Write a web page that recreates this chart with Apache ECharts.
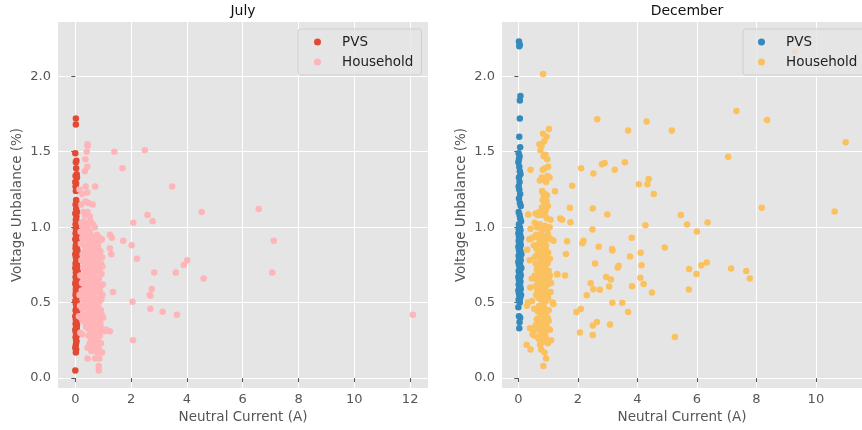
<!DOCTYPE html>
<html>
<head>
<meta charset="utf-8">
<script src="https://cdn.jsdelivr.net/npm/echarts@6/dist/echarts.min.js"></script>
<style>html,body{margin:0;padding:0;background:#fff}#c{width:862px;height:430px}</style>
</head>
<body>
<div id="c"></div>
<script>
var panelTitles = ['July', 'December'];
var seriesNames = ['PVS', 'Household'];
var xLabel = 'Neutral Current (A)';
var yLabel = 'Voltage Unbalance (%)';
var yTicks = [0, 0.5, 1.0, 1.5, 2.0];
var julyXTicks = [0, 2, 4, 6, 8, 10, 12];
var decXTicks = [0, 2, 4, 6, 8, 10];

var julyPVS = [
[0.02,1.72],[0.02,1.68],[0.0,1.49],[0.04,1.44],[0.02,1.43],[0.03,1.39],[0.05,1.35],[0.01,1.34],[0.06,1.33],[0.0,1.30],
[0.03,1.29],[0.01,1.27],[0.05,1.25],[0.02,1.24],[0.03,1.18],[0.05,1.16],[0.01,1.15],[0.03,1.12],[0.06,1.10],[0.0,1.09],
[0.04,1.07],[0.02,1.05],[0.05,1.04],[0.01,1.02],[0.03,1.01],
[0.02,0.99],[0.07,0.98],[0.01,0.96],[0.05,0.95],[0.09,0.94],[0.03,0.93],[0.0,0.92],[0.06,0.91],[0.04,0.90],[0.08,0.89],
[0.02,0.88],[0.05,0.87],[0.01,0.86],[0.07,0.85],[0.03,0.84],[0.09,0.83],[0.0,0.82],[0.05,0.81],[0.02,0.80],[0.06,0.79],
[0.04,0.78],[0.08,0.77],[0.01,0.76],[0.03,0.75],[0.07,0.74],[0.0,0.73],[0.05,0.72],[0.09,0.71],[0.02,0.70],[0.06,0.69],
[0.04,0.68],[0.01,0.67],[0.08,0.66],[0.03,0.65],[0.06,0.64],[0.0,0.63],[0.10,0.62],[0.05,0.61],[0.13,0.60],[0.02,0.59],
[0.12,0.59],[0.07,0.58],[0.04,0.57],[0.09,0.56],[0.01,0.55],[0.06,0.54],[0.03,0.53],[0.08,0.52],[0.0,0.51],[0.05,0.50],
[0.02,0.49],[0.07,0.48],[0.04,0.47],[0.09,0.46],[0.01,0.45],[0.06,0.44],[0.03,0.43],[0.08,0.42],[0.0,0.41],[0.05,0.40],
[0.02,0.39],[0.07,0.38],[0.04,0.37],[0.01,0.36],[0.06,0.35],[0.03,0.34],[0.05,0.33],[0.0,0.32],[0.04,0.31],[0.02,0.30],
[0.05,0.28],[0.01,0.27],[0.03,0.25],[0.04,0.24],[0.02,0.22],[0.0,0.20],[0.03,0.19],[0.02,0.17],[0.0,0.05],
[0.04,0.97],[0.03,0.77],[0.06,0.67],[0.02,0.57],[0.07,0.45],[0.01,0.62],[0.05,0.85]
];

var julyHousehold = [
[0.44,1.54],[0.44,1.55],[0.41,1.50],[0.36,1.45],[0.43,1.40],[0.34,1.37],[0.71,1.27],[0.37,1.27],[0.15,1.25],[0.24,1.22],
[0.43,1.23],[0.22,1.15],[0.37,1.17],[0.47,1.16],[0.62,1.15],[0.29,1.10],[0.44,1.10],[0.35,1.08],[0.52,1.07],
[0.22,1.03],[0.31,1.04],[0.47,1.03],[0.55,1.04],[0.38,1.01],[0.63,1.02],[0.70,1.00],[0.28,1.00],[0.44,0.99],
[0.19,0.97],[0.33,0.96],[0.41,0.95],[0.52,0.97],[0.60,0.94],[0.78,0.95],[0.86,0.93],[0.95,0.92],[0.25,0.93],[0.36,0.92],
[0.48,0.91],[0.57,0.90],[0.67,0.92],[0.74,0.90],[0.30,0.94],[0.45,0.96],[0.88,0.91],
[0.20,0.89],[0.29,0.88],[0.39,0.87],[0.50,0.89],[0.58,0.86],[0.66,0.88],[0.73,0.85],[0.82,0.87],[0.34,0.84],[0.43,0.83],
[0.55,0.82],[0.62,0.84],[0.70,0.81],[0.80,0.82],[0.90,0.84],[0.26,0.82],[0.47,0.86],[0.76,0.88],[0.96,0.80],[0.37,0.80],
[0.22,0.78],[0.31,0.77],[0.40,0.79],[0.49,0.76],[0.57,0.78],[0.64,0.75],[0.72,0.77],[0.84,0.79],[0.92,0.76],[0.28,0.73],
[0.36,0.72],[0.45,0.74],[0.53,0.71],[0.61,0.73],[0.69,0.70],[0.78,0.72],[0.87,0.71],[0.97,0.74],[0.42,0.70],[0.59,0.79],[0.81,0.75],
[0.18,0.68],[0.27,0.67],[0.35,0.69],[0.44,0.66],[0.52,0.68],[0.60,0.65],[0.68,0.67],[0.76,0.64],[0.85,0.66],[0.94,0.69],
[0.24,0.63],[0.32,0.62],[0.41,0.61],[0.49,0.63],[0.57,0.60],[0.65,0.62],[0.73,0.61],[0.82,0.63],[0.91,0.61],[0.99,0.62],
[0.38,0.65],[0.62,0.69],[0.88,0.60],
[0.15,0.55],[0.23,0.58],[0.30,0.56],[0.39,0.59],[0.47,0.57],[0.55,0.55],[0.63,0.58],[0.71,0.56],[0.80,0.59],[0.89,0.57],
[0.97,0.55],[0.26,0.52],[0.35,0.51],[0.43,0.53],[0.51,0.50],[0.59,0.52],[0.67,0.51],[0.75,0.53],[0.84,0.50],[0.93,0.52],
[0.45,0.55],[0.70,0.54],
[0.17,0.48],[0.25,0.46],[0.33,0.49],[0.41,0.47],[0.50,0.45],[0.58,0.48],[0.66,0.46],[0.74,0.49],[0.83,0.47],[0.92,0.45],
[1.00,0.40],[0.29,0.42],[0.37,0.41],[0.46,0.43],[0.54,0.40],[0.62,0.42],[0.70,0.41],[0.79,0.43],[0.87,0.41],[0.95,0.42],
[0.13,0.41],[0.21,0.40],[0.86,0.38],
[0.26,0.38],[0.34,0.37],[0.42,0.39],[0.50,0.36],[0.58,0.38],[0.66,0.35],[0.74,0.37],[0.82,0.34],[0.90,0.36],[0.45,0.33],
[0.53,0.31],[0.61,0.33],[0.69,0.30],[0.77,0.32],[0.85,0.31],[0.93,0.33],[0.38,0.34],[0.18,0.30],[0.25,0.29],[1.10,0.32],[0.57,0.35],
[0.48,0.28],[0.56,0.26],[0.64,0.29],[0.72,0.27],[0.80,0.25],[0.88,0.28],[0.52,0.23],[0.60,0.21],[0.68,0.24],[0.76,0.22],
[0.84,0.20],[0.92,0.23],[0.44,0.20],[0.63,0.19],[0.79,0.29],[0.70,0.20],
[0.96,0.17],[0.44,0.13],[0.71,0.13],[0.86,0.13],[0.84,0.08],[0.84,0.05],[0.58,0.18],[0.79,0.17],
[1.40,1.50],[2.49,1.51],[1.69,1.39],[3.47,1.27],[2.59,1.08],[4.53,1.10],[6.57,1.12],
[2.08,1.03],[2.77,1.04],[7.11,0.91],[1.24,0.95],[1.31,0.93],[1.72,0.91],[2.02,0.88],[1.24,0.86],[1.29,0.82],
[2.21,0.79],[4.01,0.78],[3.89,0.75],[3.60,0.70],[2.83,0.70],[7.06,0.70],[4.60,0.66],[2.74,0.59],[2.67,0.55],[2.69,0.545],
[1.35,0.57],[2.05,0.505],[2.69,0.46],[3.13,0.44],[3.64,0.42],[12.1,0.42],[2.07,0.25],[1.06,0.31],[1.24,0.31]
];

var decPVS = [
[0.02,2.23],[0.05,2.21],[0.03,2.20],[0.07,1.87],[0.05,1.84],[0.05,1.72],[0.03,1.60],[0.06,1.53],[0.01,1.49],[0.04,1.47],
[0.02,1.45],[0.0,1.43],[0.03,1.40],[0.05,1.37],[0.07,1.35],[0.02,1.33],[0.04,1.30],[0.01,1.27],[0.03,1.25],[0.06,1.22],
[0.02,1.19],[0.05,1.16],[0.08,1.14],[0.01,1.10],[0.04,1.08],[0.06,1.06],[0.09,1.04],[0.02,1.02],
[0.05,1.00],[0.01,0.99],[0.07,0.98],[0.03,0.97],[0.0,0.96],[0.06,0.95],[0.02,0.94],[0.09,0.93],[0.04,0.92],[0.01,0.91],
[0.06,0.90],[0.03,0.89],[0.08,0.88],[0.0,0.87],[0.05,0.86],[0.02,0.85],[0.07,0.84],[0.04,0.83],[0.10,0.82],[0.01,0.81],
[0.06,0.80],[0.03,0.79],[0.08,0.78],[0.0,0.77],[0.05,0.76],[0.02,0.75],[0.07,0.74],[0.10,0.73],[0.04,0.72],[0.01,0.71],
[0.06,0.70],[0.03,0.69],[0.08,0.68],[0.0,0.67],[0.05,0.66],[0.02,0.65],[0.07,0.64],[0.04,0.63],[0.01,0.62],[0.06,0.61],
[0.03,0.60],[0.08,0.59],[0.0,0.58],[0.05,0.57],[0.02,0.56],[0.09,0.55],[0.04,0.54],[0.06,0.53],[0.01,0.52],[0.03,0.51],
[0.05,0.50],[0.0,0.47],[0.02,0.41],[0.06,0.40],[0.04,0.37],[0.03,0.33],[0.07,0.92],[0.04,0.86],[0.02,0.78],[0.06,0.73],[0.03,0.64]
];

var decHousehold = [
[0.83,2.015],[9.3,2.165],[2.65,1.715],[3.69,1.64],[4.31,1.70],[5.16,1.64],[7.33,1.77],[8.36,1.71],[11.0,1.563],[7.05,1.466],
[0.41,1.38],[2.11,1.39],[2.52,1.355],[2.81,1.417],[2.90,1.425],[3.24,1.38],[3.58,1.43],[4.05,1.285],[4.34,1.285],[4.38,1.32],
[4.55,1.22],[1.81,1.274],[1.23,1.238],[1.73,1.128],[2.50,1.124],[2.99,1.084],[5.46,1.08],[8.18,1.128],[10.63,1.104],[0.33,1.084],
[1.41,1.057],[1.47,1.05],[1.75,1.033],[2.49,0.985],[4.27,1.013],[5.67,1.018],[6.36,1.031],[6.0,0.971],[0.41,0.99],[1.64,0.907],
[2.15,0.894],[2.19,0.91],[3.81,0.93],[2.70,0.87],[3.15,0.856],[3.16,0.845],[4.92,0.865],[4.11,0.83],[1.60,0.823],[3.75,0.806],
[4.14,0.748],[2.58,0.76],[3.34,0.733],[3.37,0.745],[6.15,0.748],[6.33,0.766],[5.74,0.722],[7.15,0.726],[7.66,0.709],[7.78,0.66],
[5.99,0.689],[1.31,0.687],[1.57,0.68],[2.95,0.669],[3.11,0.654],[4.10,0.664],[4.21,0.623],[2.43,0.629],[3.05,0.607],[3.82,0.609],
[2.52,0.589],[2.74,0.585],[5.73,0.587],[4.49,0.567],[2.30,0.548],[3.16,0.499],[3.49,0.499],[2.10,0.457],[1.95,0.437],[3.69,0.437],
[2.64,0.371],[2.50,0.349],[3.08,0.355],[2.07,0.302],[2.50,0.285],[5.26,0.272],
[0.83,1.62],[0.95,1.60],[0.71,1.55],[0.78,1.54],[0.87,1.57],[0.74,1.51],[0.91,1.48],[0.97,1.45],[1.03,1.65],[0.85,1.47],
[1.00,1.40],[0.82,1.38],[0.90,1.39],[0.79,1.33],[0.72,1.31],[0.86,1.32],[0.98,1.34],[1.05,1.33],[0.93,1.30],[0.80,1.24],
[0.84,1.22],[0.90,1.22],[0.96,1.21],[0.82,1.18],[0.88,1.16],[0.95,1.17],[0.79,1.13],[0.86,1.12],[0.92,1.11],[0.99,1.14],
[0.83,1.09],[0.89,1.08],[0.76,1.08],[0.65,1.08],[0.58,1.09],[0.70,1.10],[0.96,1.06],[1.08,1.05],
[0.55,1.03],[0.63,1.00],[0.72,1.02],[0.81,0.99],[0.89,1.01],[0.97,0.98],[1.05,1.00],[0.60,0.95],[0.68,0.93],[0.76,0.96],
[0.84,0.94],[0.92,0.92],[1.00,0.95],[1.10,0.92],[0.37,0.92],[0.48,0.93],[0.79,0.90],[0.88,0.91],[1.18,0.91],
[0.30,0.85],[0.52,0.88],[0.60,0.86],[0.68,0.89],[0.76,0.84],[0.84,0.87],[0.92,0.85],[1.00,0.83],[0.64,0.82],[0.72,0.80],
[0.80,0.81],[0.88,0.82],[0.96,0.80],[1.06,0.79],[0.55,0.80],[0.93,0.88],
[0.38,0.78],[0.58,0.76],[0.66,0.74],[0.74,0.77],[0.82,0.75],[0.90,0.73],[0.98,0.76],[0.70,0.71],[0.78,0.70],[0.86,0.72],
[0.94,0.70],[1.02,0.71],[0.62,0.72],[1.30,0.69],[0.85,0.78],
[0.45,0.66],[0.55,0.68],[0.63,0.65],[0.71,0.67],[0.79,0.64],[0.87,0.66],[0.95,0.63],[1.03,0.65],[0.67,0.62],[0.75,0.60],
[0.83,0.61],[0.91,0.60],[0.99,0.62],[1.10,0.63],[0.40,0.60],[0.58,0.61],[1.06,0.68],
[0.64,0.58],[0.72,0.56],[0.80,0.59],[0.88,0.57],[0.96,0.55],[0.68,0.53],[0.76,0.52],[0.84,0.54],[0.92,0.51],[1.00,0.53],
[0.60,0.55],[1.08,0.57],[0.86,0.50],[0.78,0.57],
[0.53,0.46],[0.70,0.48],[0.78,0.45],[0.86,0.47],[0.94,0.44],[0.74,0.42],[0.82,0.41],[0.90,0.43],[0.98,0.40],[1.02,0.45],
[0.66,0.44],[0.29,0.48],[0.32,0.50],[0.46,0.51],[1.15,0.50],[1.18,0.49],
[0.62,0.39],[0.70,0.37],[0.78,0.35],[0.86,0.38],[0.94,0.36],[1.02,0.38],[0.66,0.33],[0.74,0.31],[0.82,0.32],[0.90,0.30],
[0.98,0.33],[0.39,0.33],[0.50,0.31],[0.58,0.35],[1.06,0.32],
[0.55,0.28],[0.68,0.26],[0.76,0.28],[0.84,0.24],[0.92,0.27],[0.99,0.23],[0.73,0.22],[1.10,0.25],[0.48,0.29],
[0.28,0.22],[0.41,0.19],[0.77,0.19],[0.88,0.17],[0.93,0.13],[0.84,0.08]
];

var colors = {
  julyPVS: '#E24A33', julyHouse: '#FFB5B8',
  decPVS: '#348ABD', decHouse: '#FBC15E'
};

var FONT = 'DejaVu Sans';
function xAxisCfg(idx, min, max, ticks) {
  return {
    type: 'value', gridIndex: idx, min: min, max: max,
    name: xLabel, nameLocation: 'middle', nameGap: 22,
    nameTextStyle: { color: '#555555', fontSize: 13.5, fontFamily: FONT },
    axisLine: { show: false },
    axisTick: { show: true, length: 4, lineStyle: { color: '#555555' }, customValues: ticks },
    axisLabel: { color: '#555555', fontSize: 13, fontFamily: FONT, margin: 5, customValues: ticks,
      formatter: function (v) { return String(v); } },
    splitLine: { show: true, lineStyle: { color: '#ffffff', width: 1 } }
  };
}
function yAxisCfg(idx) {
  return {
    type: 'value', gridIndex: idx, min: -0.066, max: 2.36,
    name: yLabel, nameLocation: 'middle', nameGap: 34,
    nameTextStyle: { color: '#555555', fontSize: 13.5, fontFamily: FONT },
    axisLine: { show: false },
    axisTick: { show: true, length: 4, lineStyle: { color: '#555555' }, customValues: yTicks },
    axisLabel: { color: '#555555', fontSize: 13, fontFamily: FONT, margin: 7, customValues: yTicks,
      formatter: function (v) { return v.toFixed(1); } },
    splitLine: { show: true, lineStyle: { color: '#ffffff', width: 1 } }
  };
}
function scatter(name, xi, data, color) {
  return {
    type: 'scatter', name: name, xAxisIndex: xi, yAxisIndex: xi, data: data,
    symbolSize: 6.5, itemStyle: { color: color, opacity: 1 }, emphasis: { disabled: true },
    animation: false, clip: true
  };
}
function legendCfg(left, c1, c2, padLeft) {
  return {
    orient: 'vertical', left: left, top: 29, itemWidth: 7, itemHeight: 7, itemGap: 6,
    padding: [6, 8, 6, padLeft],
    backgroundColor: 'rgba(229,229,229,0.8)', borderColor: '#cfcfcf', borderWidth: 1, borderRadius: 3,
    textStyle: { color: '#222222', fontSize: 13.5, fontFamily: FONT, padding: [0, 0, 0, 16] },
    selectedMode: false,
    data: [
      { name: seriesNames[0], icon: 'circle', itemStyle: { color: c1 } },
      { name: seriesNames[1], icon: 'circle', itemStyle: { color: c2 } }
    ]
  };
}

var chart = echarts.init(document.getElementById('c'), null, { renderer: 'canvas' });
chart.setOption({
  animation: false,
  backgroundColor: '#ffffff',
  title: [
    { text: panelTitles[0], left: 243, top: 4, textAlign: 'center', padding: 0,
      textStyle: { fontSize: 14, fontWeight: 'normal', color: '#111111', fontFamily: FONT } },
    { text: panelTitles[1], left: 687, top: 4, textAlign: 'center', padding: 0,
      textStyle: { fontSize: 14, fontWeight: 'normal', color: '#111111', fontFamily: FONT } }
  ],
  grid: [
    { left: 58, top: 22, width: 370, height: 366, show: true, backgroundColor: '#E5E5E5', borderWidth: 0 },
    { left: 502, top: 22, width: 370, height: 366, show: true, backgroundColor: '#E5E5E5', borderWidth: 0 }
  ],
  xAxis: [xAxisCfg(0, -0.62, 12.64, julyXTicks), xAxisCfg(1, -0.55, 11.55, decXTicks)],
  yAxis: [yAxisCfg(0), yAxisCfg(1)],
  legend: [legendCfg(298, colors.julyPVS, colors.julyHouse, 16), legendCfg(743, colors.decPVS, colors.decHouse, 15)],
  series: [
    scatter(seriesNames[0], 0, julyPVS, colors.julyPVS),
    scatter(seriesNames[1], 0, julyHousehold, colors.julyHouse),
    scatter(seriesNames[0], 1, decPVS, colors.decPVS),
    scatter(seriesNames[1], 1, decHousehold, colors.decHouse)
  ]
});
</script>
</body>
</html>
